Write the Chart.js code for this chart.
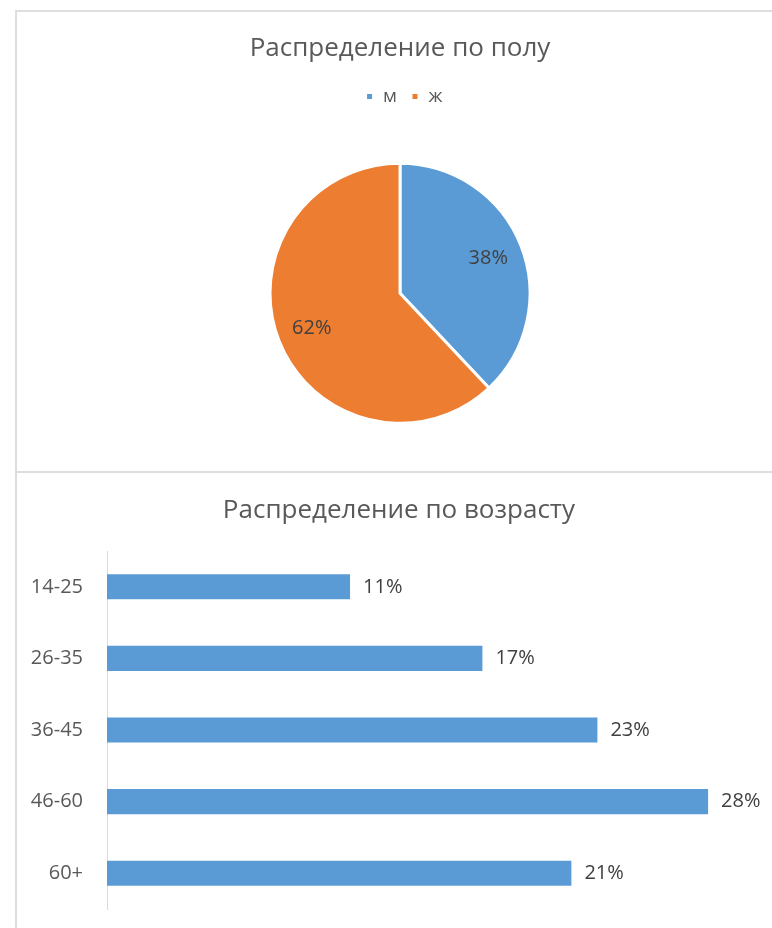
<!DOCTYPE html>
<html>
<head>
<meta charset="utf-8">
<script src="https://cdn.jsdelivr.net/npm/chart.js@4.4.1/dist/chart.umd.min.js"></script>
<style>
  html, body { margin: 0; padding: 0; background: #ffffff; }
  body { width: 772px; height: 928px; position: relative; overflow: hidden; }
  .line { position: absolute; background: #dedede; }
  canvas { position: absolute; left: 0; }
</style>
</head>
<body>
<div class="line" style="left:15px; top:10px; width:757px; height:2px;"></div>
<div class="line" style="left:15px; top:10px; width:2px; height:918px;"></div>
<div class="line" style="left:15px; top:471px; width:757px; height:2px;"></div>
<canvas id="pie" style="top:0px;" width="772" height="480"></canvas>
<canvas id="bar" style="top:472px;" width="772" height="456"></canvas>
<script>
// ---- data ----
const genderLabels = ['м', 'ж'];
const genderValues = [38, 62];
const ageLabels = ['14-25', '26-35', '36-45', '46-60', '60+'];
const ageValues = [11.2, 17.3, 22.6, 27.7, 21.4];
const pieTitle = 'Распределение по полу';
const barTitle = 'Распределение по возрасту';

const FONT = "'Open Sans', 'Noto Sans', sans-serif";
const BLUE = '#5B9BD5';
const ORANGE = '#ED7D31';

Chart.defaults.font.family = FONT;
Chart.defaults.color = '#595959';

const pieLabelPlugin = {
  id: 'pieLabels',
  afterDatasetsDraw(chart) {
    const ctx = chart.ctx;
    const meta = chart.getDatasetMeta(0);
    const data = chart.data.datasets[0].data;
    const total = data.reduce((a, b) => a + b, 0);
    ctx.save();
    ctx.font = '20px ' + FONT;
    ctx.fillStyle = '#404040';
    ctx.textAlign = 'center';
    ctx.textBaseline = 'middle';
    meta.data.forEach((arc, i) => {
      const p = arc.getProps(['x', 'y', 'startAngle', 'endAngle', 'outerRadius'], true);
      const mid = (p.startAngle + p.endAngle) / 2;
      const r = p.outerRadius * 0.73;
      const pct = Math.round(data[i] / total * 100) + '%';
      ctx.fillText(pct, p.x + Math.cos(mid) * r, p.y + Math.sin(mid) * r);
    });
    ctx.restore();
  }
};

const barLabelPlugin = {
  id: 'barLabels',
  afterDatasetsDraw(chart) {
    const ctx = chart.ctx;
    const meta = chart.getDatasetMeta(0);
    const data = chart.data.datasets[0].data;
    ctx.save();
    ctx.font = '20px ' + FONT;
    ctx.fillStyle = '#404040';
    ctx.textAlign = 'left';
    ctx.textBaseline = 'middle';
    meta.data.forEach((bar, i) => {
      const p = bar.getProps(['x', 'y'], true);
      ctx.fillText(Math.round(data[i]) + '%', p.x + 13, p.y);
    });
    ctx.restore();
  }
};

// centre the bar chart title over the whole panel rather than the space left of the padding
const titleShiftPlugin = {
  id: 'titleShift',
  afterLayout(chart) {
    const t = chart.titleBlock;
    if (t) { t.left += 20; t.right += 20; }
  }
};

// nudge the pie legend slightly right, as in the original
const legendShiftPlugin = {
  id: 'legendShift',
  afterLayout(chart) {
    const l = chart.legend;
    if (l) { l.left += 4; l.right += 4; }
  }
};

new Chart(document.getElementById('pie'), {
  type: 'pie',
  data: {
    labels: genderLabels,
    datasets: [{
      data: genderValues,
      backgroundColor: [BLUE, ORANGE],
      borderColor: '#ffffff',
      borderWidth: 3,
      radius: 130
    }]
  },
  options: {
    responsive: false,
    animation: false,
    devicePixelRatio: 1,
    layout: { padding: { left: 28, right: 0, top: 0, bottom: 9.5 } },
    plugins: {
      title: {
        display: true,
        text: pieTitle,
        color: '#595959',
        font: { size: 26, weight: 'normal', family: FONT },
        padding: { top: 33, bottom: 8.9 }
      },
      legend: {
        display: true,
        position: 'top',
        labels: {
          boxWidth: 8,
          boxHeight: 8,
          padding: 14,
          color: '#595959',
          font: { size: 19, family: FONT }
        }
      },
      tooltip: { enabled: false }
    }
  },
  plugins: [pieLabelPlugin, legendShiftPlugin]
});

new Chart(document.getElementById('bar'), {
  type: 'bar',
  data: {
    labels: ageLabels,
    datasets: [{
      data: ageValues,
      backgroundColor: BLUE,
      borderWidth: 0,
      barPercentage: 0.35,
      categoryPercentage: 1.0
    }]
  },
  options: {
    indexAxis: 'y',
    responsive: false,
    animation: false,
    devicePixelRatio: 1,
    layout: { padding: { left: 0, right: 14, top: 0, bottom: 19 } },
    scales: {
      x: {
        display: false,
        min: 0,
        max: 30
      },
      y: {
        afterFit(scale) { scale.width = 107; },
        grid: {
          display: true,
          drawOnChartArea: false,
          drawTicks: true,
          tickLength: 24,
          tickColor: 'rgba(0,0,0,0)'
        },
        border: { display: true, color: '#d9d9d9', width: 1 },
        ticks: {
          padding: 0,
          color: '#595959',
          font: { size: 20, family: FONT }
        }
      }
    },
    plugins: {
      title: {
        display: true,
        text: barTitle,
        color: '#595959',
        font: { size: 26, weight: 'normal', family: FONT },
        padding: { top: 23, bottom: 24.8 }
      },
      legend: { display: false },
      tooltip: { enabled: false }
    }
  },
  plugins: [barLabelPlugin, titleShiftPlugin]
});
</script>
</body>
</html>
